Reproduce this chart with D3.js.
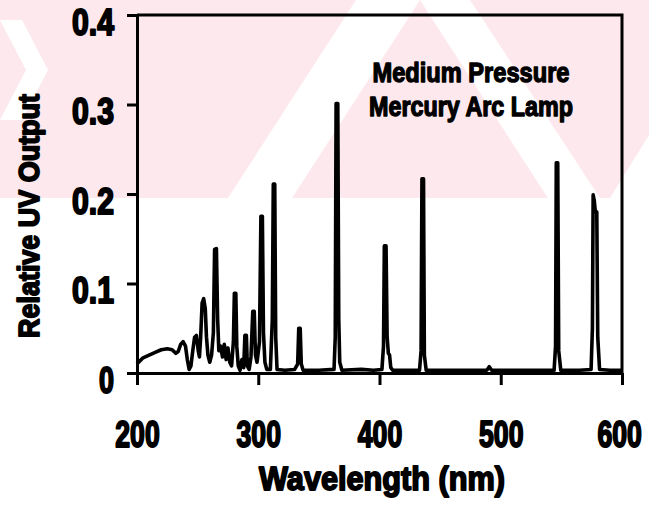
<!DOCTYPE html>
<html>
<head>
<meta charset="utf-8">
<script src="https://cdn.jsdelivr.net/npm/d3@7"></script>
<style>
  html, body { margin: 0; padding: 0; background: #fff; }
  svg { display: block; }
</style>
</head>
<body>
<div id="chart"></div>
<script>
// spectrum: wavelength (nm) and relative UV output
const wavelength = [
  200, 202, 205, 210, 215, 220, 225, 229, 232, 234, 236, 238, 240, 241.5, 243, 244.5,
  246, 247.5, 249, 250.5, 251.5, 252.5, 253.7, 255, 256.3, 257.3, 258.5, 260, 261.5,
  263, 264, 265.5, 266.5, 267.5, 269, 270.5, 272, 273.5, 275, 276.5, 278, 279.5, 280.3,
  281.5, 282.3, 283.5, 285, 286.5, 288, 289, 290.2, 291, 292.5, 294, 295.5, 296.7,
  297.7, 299, 301, 302.2, 303.4, 304.3, 305.5, 307, 310, 311.6, 312.4, 313.6, 314.4,
  315.5, 322, 330, 332.5, 333.4, 334.6, 335.5, 337, 350, 362.5, 363.5, 364.2, 365.6,
  366.4, 367.2, 369, 385, 395, 402, 403.3, 404, 405.4, 406.3, 407.3, 408.3, 409.3, 411,
  425, 433, 434.3, 435, 436.3, 437, 438.5, 460, 480, 488.5, 490.5, 492.5, 520, 544,
  545.2, 545.8, 547, 547.8, 549.5, 565, 574.5, 575.6, 576.2, 577.2, 578, 579.2, 580,
  581.5, 590, 600
];
const output = [
  0.010, 0.013, 0.017, 0.020, 0.023, 0.026, 0.027, 0.026, 0.022, 0.024, 0.032, 0.035, 0.030, 0.015, 0.004, 0.008,
  0.025, 0.040, 0.042, 0.025, 0.018, 0.040, 0.078, 0.083, 0.072, 0.040, 0.020, 0.012, 0.020,
  0.045, 0.138, 0.139, 0.060, 0.025, 0.030, 0.018, 0.032, 0.015, 0.028, 0.012, 0.008, 0.035, 0.089,
  0.089, 0.030, 0.008, 0.003, 0.015, 0.006, 0.042, 0.042, 0.008, 0.004, 0.018, 0.069, 0.069,
  0.020, 0.012, 0.035, 0.175, 0.175, 0.045, 0.012, 0.004, 0.004, 0.060, 0.211, 0.211, 0.040,
  0.004, 0.003, 0.004, 0.010, 0.050, 0.050, 0.010, 0.003, 0.003, 0.004, 0.040, 0.301, 0.301,
  0.060, 0.012, 0.003, 0.004, 0.003, 0.004, 0.030, 0.142, 0.142, 0.040, 0.022, 0.020, 0.006, 0.003,
  0.003, 0.003, 0.025, 0.217, 0.217, 0.020, 0.003, 0.003, 0.003, 0.003, 0.007, 0.003, 0.003, 0.003,
  0.030, 0.235, 0.235, 0.025, 0.003, 0.003, 0.004, 0.050, 0.199, 0.192, 0.180, 0.180, 0.040,
  0.004, 0.003, 0.003
];
const xTicks = [200, 300, 400, 500, 600];
const xTickLabels = ["200", "300", "400", "500", "600"];
const yTicks = [0, 0.1, 0.2, 0.3, 0.4];
const yTickLabels = ["0", "0.1", "0.2", "0.3", "0.4"];
const legendLines = ["Medium Pressure", "Mercury Arc Lamp"];

const width = 649, height = 506;
const margin = {top: 15, right: 27, bottom: 133, left: 137};
const font = "'Liberation Sans', Arial, Helvetica, sans-serif";

const svg = d3.select("#chart").append("svg")
    .attr("width", width)
    .attr("height", height)
    .attr("viewBox", [0, 0, width, height]);

// faint pink watermark behind the upper half
const wm = svg.append("g");
wm.append("rect").attr("x", 0).attr("y", 0).attr("width", width).attr("height", 198).attr("fill", "#fde9ed");
const stripes = [
  [[0, 20], [22, 20], [48, 70], [22, 120], [0, 120], [26, 70]],
  [[228, 198], [292, 198], [420, 0], [356, 0]],
  [[420, 0], [470, 0], [600, 198], [548, 198]],
  [[610, 198], [649, 198], [649, 135]]
];
wm.selectAll("polygon")
  .data(stripes)
  .join("polygon")
    .attr("points", d => d.map(p => p.join(",")).join(" "))
    .attr("fill", "#fff");

const x = d3.scaleLinear([200, 600], [margin.left, width - margin.right]);
const y = d3.scaleLinear([0, 0.4], [height - margin.bottom, margin.top]);

function heavy(sel, size, sw) {
  sel.attr("font-family", font)
     .attr("font-weight", "bold")
     .attr("font-size", size)
     .attr("fill", "#000")
     .attr("stroke", "#000")
     .attr("stroke-width", sw)
     .attr("stroke-linejoin", "round");
}

// spectrum
const pts = wavelength.map((w, i) => [w, output[i]]);
svg.append("path")
    .datum(pts)
    .attr("fill", "none")
    .attr("stroke", "#000")
    .attr("stroke-width", 3.6)
    .attr("stroke-linejoin", "round")
    .attr("d", d3.line().x(d => x(d[0])).y(d => y(d[1])));

// frame top + right
svg.append("path")
    .attr("fill", "none")
    .attr("stroke", "#000")
    .attr("stroke-width", 3)
    .attr("d", `M${x(200)},${y(0.4)}H${x(600)}V${y(0)}`);

// y axis
svg.append("g")
    .attr("transform", `translate(${margin.left},0)`)
    .call(d3.axisLeft(y).tickValues(yTicks).tickSize(10).tickSizeOuter(0).tickPadding(13)
        .tickFormat((d, i) => yTickLabels[i]))
    .call(g => g.select(".domain").attr("stroke-width", 3))
    .call(g => g.selectAll(".tick line").attr("stroke-width", 3))
    .call(g => g.selectAll(".tick text")
        .attr("dy", 19)
        .call(heavy, 37, 2)
        .attr("lengthAdjust", "spacingAndGlyphs")
        .attr("textLength", (d, i) => yTickLabels[i].length > 1 ? 42 : 15));

// x axis (labels squeezed with a horizontal scale, as in the scan)
svg.append("g")
    .attr("transform", `translate(0,${y(0)})`)
    .call(d3.axisBottom(x).tickValues(xTicks).tickSize(12).tickSizeOuter(0)
        .tickFormat((d, i) => xTickLabels[i]))
    .call(g => g.select(".domain").attr("stroke-width", 3))
    .call(g => g.selectAll(".tick line").attr("stroke-width", 3))
    .call(g => g.selectAll(".tick text")
        .attr("y", 74)
        .attr("dy", 0)
        .attr("x", (d, i) => i === xTicks.length - 1 ? -4 : 0)
        .attr("transform", "scale(0.72,1)")
        .call(heavy, 37, 2));

// axis titles
svg.append("text")
    .attr("x", 382)
    .attr("y", 490)
    .attr("text-anchor", "middle")
    .call(heavy, 33, 1.8)
    .attr("lengthAdjust", "spacingAndGlyphs")
    .attr("textLength", 246)
    .text("Wavelength (nm)");

svg.append("text")
    .attr("transform", "translate(39,216) rotate(-90)")
    .attr("text-anchor", "middle")
    .call(heavy, 30, 1.8)
    .attr("lengthAdjust", "spacingAndGlyphs")
    .attr("textLength", 244)
    .text("Relative UV Output");

// legend label
svg.append("g")
  .selectAll("text")
  .data(legendLines)
  .join("text")
    .attr("x", 471)
    .attr("y", (d, i) => 82 + i * 34)
    .attr("text-anchor", "middle")
    .call(heavy, 28, 1.4)
    .attr("lengthAdjust", "spacingAndGlyphs")
    .attr("textLength", (d, i) => i === 0 ? 197 : 204)
    .text(d => d);
</script>
</body>
</html>
